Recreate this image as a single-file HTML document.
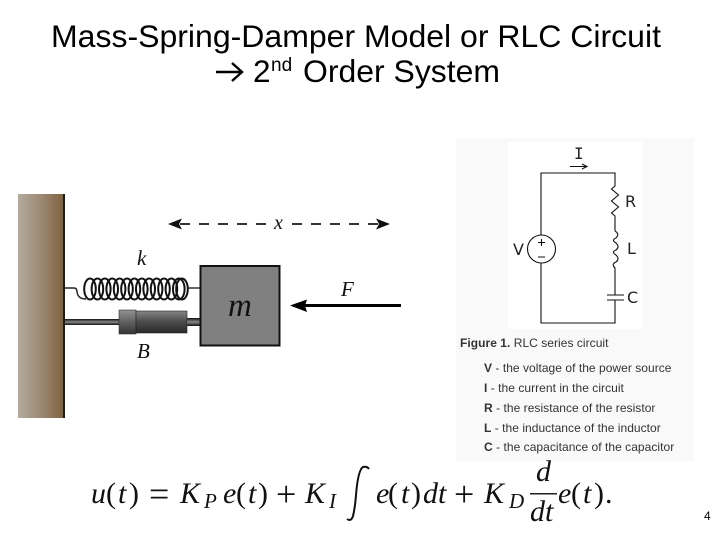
<!DOCTYPE html>
<html>
<head>
<meta charset="utf-8">
<style>
html,body{margin:0;padding:0;background:#fff;width:720px;height:540px;overflow:hidden}
svg{display:block}
.t{font-family:"Liberation Sans",sans-serif;fill:#000}
.s{font-family:"Liberation Serif",serif;fill:#111}
.i{font-family:"Liberation Serif",serif;font-style:italic;fill:#111}
.c{font-family:"DejaVu Sans","Liberation Sans",sans-serif;fill:#222}
.m{font-family:"DejaVu Sans Mono","Liberation Mono",monospace;fill:#222}
.l{font-family:"Liberation Sans",sans-serif;font-size:12px;fill:#333;letter-spacing:.04px}
</style>
</head>
<body>
<svg width="720" height="540" viewBox="0 0 720 540" xmlns="http://www.w3.org/2000/svg">
<defs>
<linearGradient id="wall" x1="0" x2="1" y1="0" y2="0">
<stop offset="0" stop-color="#b3aa9e"/><stop offset="0.5" stop-color="#9d8a75"/><stop offset="0.95" stop-color="#826544"/><stop offset="1" stop-color="#7a5c3c"/>
</linearGradient>
<linearGradient id="cyl1" x1="0" x2="0" y1="0" y2="1">
<stop offset="0" stop-color="#929292"/><stop offset="0.55" stop-color="#5c5c5c"/><stop offset="1" stop-color="#333"/>
</linearGradient>
<linearGradient id="cyl2" x1="0" x2="0" y1="0" y2="1">
<stop offset="0" stop-color="#858585"/><stop offset="0.5" stop-color="#4a4a4a"/><stop offset="1" stop-color="#2a2a2a"/>
</linearGradient>
<linearGradient id="rod" x1="0" x2="0" y1="0" y2="1">
<stop offset="0" stop-color="#111"/><stop offset="0.5" stop-color="#888"/><stop offset="1" stop-color="#111"/>
</linearGradient>
</defs>

<!-- Title -->
<text class="t" x="51" y="47" font-size="31.500" textLength="610" lengthAdjust="spacingAndGlyphs">Mass-Spring-Damper Model or RLC Circuit</text>
<path d="M216 72H241M232 63L242 72L232 81" fill="none" stroke="#000" stroke-width="2.400"/>
<text class="t" x="253" y="82" font-size="31.500">2</text>
<text class="t" x="271" y="71" font-size="19">nd</text>
<text class="t" x="303" y="82" font-size="31.500" textLength="197" lengthAdjust="spacingAndGlyphs">Order System</text>

<!-- Wall -->
<rect x="18" y="194" width="46" height="224" fill="url(#wall)"/>
<rect x="63" y="194" width="2" height="224" fill="#241a10"/>

<!-- Displacement arrow -->
<path d="M168 224L182 218.500L179 224L182 229.500Z" fill="#111"/>
<path d="M180 224H266M292 224H380" stroke="#333" stroke-width="2" stroke-dasharray="10 9" fill="none"/>
<path d="M390 224L376 218.500L379 224L376 229.500Z" fill="#111"/>
<text class="i" x="274" y="229" font-size="20">x</text>

<!-- Spring -->
<text class="i" x="137" y="265" font-size="21">k</text>
<path d="M65 288H74Q77 288 77 292Q78 299 86 299" fill="none" stroke="#222" stroke-width="1.400"/>
<g fill="none" stroke="#111" stroke-width="2">
<ellipse cx="90" cy="289" rx="5.800" ry="10.500"/><ellipse cx="97.400" cy="289" rx="5.800" ry="10.500"/>
<ellipse cx="104.800" cy="289" rx="5.800" ry="10.500"/><ellipse cx="112.200" cy="289" rx="5.800" ry="10.500"/>
<ellipse cx="119.600" cy="289" rx="5.800" ry="10.500"/><ellipse cx="127" cy="289" rx="5.800" ry="10.500"/>
<ellipse cx="134.400" cy="289" rx="5.800" ry="10.500"/><ellipse cx="141.800" cy="289" rx="5.800" ry="10.500"/>
<ellipse cx="149.200" cy="289" rx="5.800" ry="10.500"/><ellipse cx="156.600" cy="289" rx="5.800" ry="10.500"/>
<ellipse cx="164" cy="289" rx="5.800" ry="10.500"/><ellipse cx="171.400" cy="289" rx="5.800" ry="10.500"/>
<ellipse cx="178.800" cy="289" rx="5.800" ry="10.500"/><ellipse cx="182" cy="289" rx="5.800" ry="10.500"/>
</g>
<path d="M187 288H200" stroke="#222" stroke-width="1.400"/>

<!-- Damper -->
<rect x="65" y="319" width="54" height="6" fill="url(#rod)"/>
<rect x="119" y="310" width="17" height="24" fill="url(#cyl1)" stroke="#333" stroke-width="0.600"/>
<rect x="136" y="311" width="51" height="22" fill="url(#cyl2)" stroke="#222" stroke-width="0.600"/>
<rect x="187" y="318" width="13" height="8" fill="url(#rod)"/>
<text class="i" x="137" y="358" font-size="21">B</text>

<!-- Mass -->
<rect x="200.500" y="266" width="79" height="79.500" fill="#808080" stroke="#111" stroke-width="2"/>
<text class="i" x="228" y="316" font-size="33">m</text>

<!-- Force -->
<text class="i" x="341" y="296" font-size="21">F</text>
<path d="M290 305.500L307 299.500L305 305.500L307 312Z" fill="#000"/>
<rect x="304" y="304" width="97" height="3" fill="#000"/>

<!-- Circuit panel -->
<rect x="456" y="138" width="238" height="323" fill="#f9f9f9"/>
<rect x="508" y="142" width="135" height="187" fill="#fff"/>
<g fill="none" stroke="#111" stroke-width="1.100">
<path d="M541 235V173H615V186L611.500 189L618.500 195L611.500 201L618.500 207L611.500 213L615 216V231"/>
<path d="M615 231Q620 234 616 238Q611 240 616 243Q620 247 616 250Q611 252 616 255Q620 259 616 262Q611 264 615 268V295"/>
<path d="M607 295H624M607 300H624"/>
<path d="M615 300V323H541V263"/>
<circle cx="541.500" cy="249" r="14"/>
<path d="M570 166.500H587M582 164L587 166.500L582 169"/>
<path d="M538 242.500H545M541.500 239V246M538 257H545"/>
</g>
<text class="m" x="574" y="159" font-size="16">I</text>
<text class="c" x="625" y="207" font-size="16">R</text>
<text class="c" x="627" y="254" font-size="16">L</text>
<text class="c" x="627" y="303" font-size="16">C</text>
<text class="c" x="513" y="255" font-size="16">V</text>

<!-- Legend -->
<text class="l" x="460" y="347"><tspan font-weight="bold">Figure 1.</tspan> RLC series circuit</text>
<text class="l" x="484" y="372"><tspan font-weight="bold">V</tspan> - the voltage of the power source</text>
<text class="l" x="484" y="392"><tspan font-weight="bold">I</tspan> - the current in the circuit</text>
<text class="l" x="484" y="412"><tspan font-weight="bold">R</tspan> - the resistance of the resistor</text>
<text class="l" x="484" y="432"><tspan font-weight="bold">L</tspan> - the inductance of the inductor</text>
<text class="l" x="484" y="451"><tspan font-weight="bold">C</tspan> - the capacitance of the capacitor</text>

<!-- Formula -->
<text class="i" x="91" y="503" font-size="30">u</text>
<text class="s" x="106" y="503" font-size="30">(</text>
<text class="i" x="118" y="503" font-size="30">t</text>
<text class="s" x="129" y="503" font-size="30">)</text>
<text class="s" x="149" y="506" font-size="36">=</text>
<text class="i" x="180" y="503" font-size="30">K</text>
<text class="i" x="204" y="508" font-size="21">P</text>
<text class="i" x="223" y="503" font-size="30">e</text>
<text class="s" x="236" y="503" font-size="30">(</text>
<text class="i" x="248" y="503" font-size="30">t</text>
<text class="s" x="258" y="503" font-size="30">)</text>
<text class="s" x="276" y="506" font-size="36">+</text>
<text class="i" x="305" y="503" font-size="30">K</text>
<text class="i" x="329" y="508" font-size="21">I</text>
<path d="M347 519Q351 522 353 516Q355 508 356 495Q358 470 363 467Q367 466 369 469" fill="none" stroke="#111" stroke-width="2"/>
<text class="i" x="376" y="503" font-size="30">e</text>
<text class="s" x="388" y="503" font-size="30">(</text>
<text class="i" x="401" y="503" font-size="30">t</text>
<text class="s" x="411" y="503" font-size="30">)</text>
<text class="i" x="423" y="503" font-size="30">dt</text>
<text class="s" x="454" y="506" font-size="36">+</text>
<text class="i" x="484" y="503" font-size="30">K</text>
<text class="i" x="509" y="508" font-size="21">D</text>
<text class="i" x="536" y="481" font-size="30">d</text>
<rect x="530" y="493" width="27" height="1.500" fill="#222"/>
<text class="i" x="530" y="521" font-size="30">dt</text>
<text class="i" x="558" y="503" font-size="30">e</text>
<text class="s" x="571" y="503" font-size="30">(</text>
<text class="i" x="583" y="503" font-size="30">t</text>
<text class="s" x="594" y="503" font-size="30">)</text>
<text class="s" x="605" y="503" font-size="30">.</text>

<text class="t" x="704" y="520" font-size="12" fill="#333">4</text>
</svg>
</body>
</html>
